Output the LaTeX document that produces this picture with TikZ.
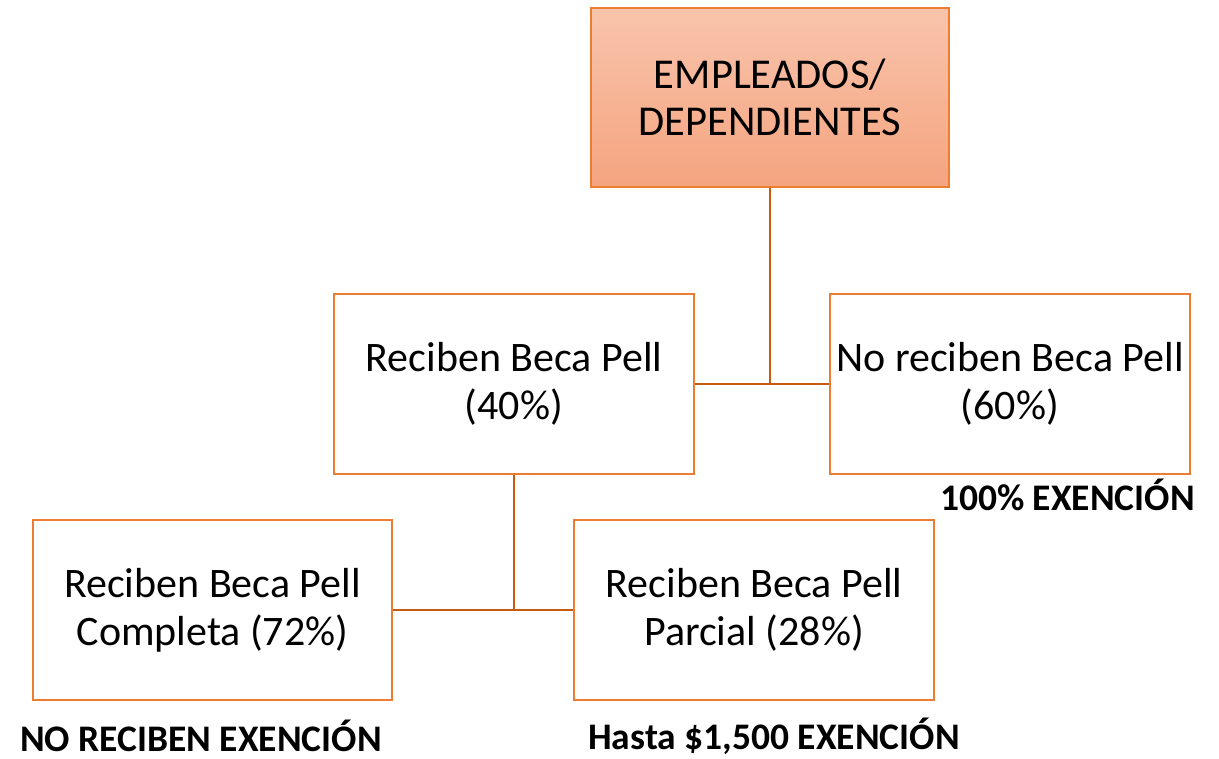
\documentclass[tikz,border=0pt]{standalone}
\usepackage{fontspec}
\setmainfont{Carlito}
\definecolor{obord}{HTML}{ED7D31}
\definecolor{oline}{HTML}{C55A11}
\definecolor{ftop}{HTML}{F8C4AC}
\definecolor{fbot}{HTML}{F5A47F}
\begin{document}
\begin{tikzpicture}[x=1pt,y=-1pt,
  box/.style={draw=obord,line width=1.6pt,fill=white,inner sep=0pt,align=center,
    font=\fontsize{42}{48}\selectfont},
  topbox/.style={box,top color=ftop,bottom color=fbot,font=\fontsize{42.5}{47}\selectfont},
  lbl/.style={font=\bfseries\fontsize{37.5}{40}\selectfont,inner sep=0pt},
  conn/.style={draw=oline,line width=1.8pt}]
\useasboundingbox (0,0) rectangle (1219,759);
\node[topbox,minimum width=358pt,minimum height=179pt] (top) at (770,97.5) {EMPLEADOS/\\DEPENDIENTES};
\node[box,minimum width=360pt,minimum height=180pt] (ml) at (514,384) {Reciben Beca Pell\\(40\%)};
\node[box,minimum width=360pt,minimum height=180pt] (mr) at (1010,384) {No reciben Beca Pell\\(60\%)};
\node[box,minimum width=359pt,minimum height=180pt] (bl) at (212.5,610) {Reciben Beca Pell\\Completa (72\%)};
\node[box,minimum width=360pt,minimum height=180pt] (br) at (754,610) {Reciben Beca Pell\\Parcial (28\%)};
\coordinate (j1) at (top.south |- ml.east);
\coordinate (j2) at (ml.south |- bl.east);
\draw[conn] (top.south) -- (j1);
\draw[conn] (ml.east) -- (mr.west);
\draw[conn] (ml.south) -- (j2);
\draw[conn] (bl.east) -- (br.west);
\node[lbl,anchor=east] (l1) at (1195,495) {100\% EXENCIÓN};
\node[lbl] (l2) at (201,736) {NO RECIBEN EXENCIÓN};
\node[lbl] (l3) at (774,736) {Hasta \$1,500 EXENCIÓN};
\end{tikzpicture}
\end{document}
